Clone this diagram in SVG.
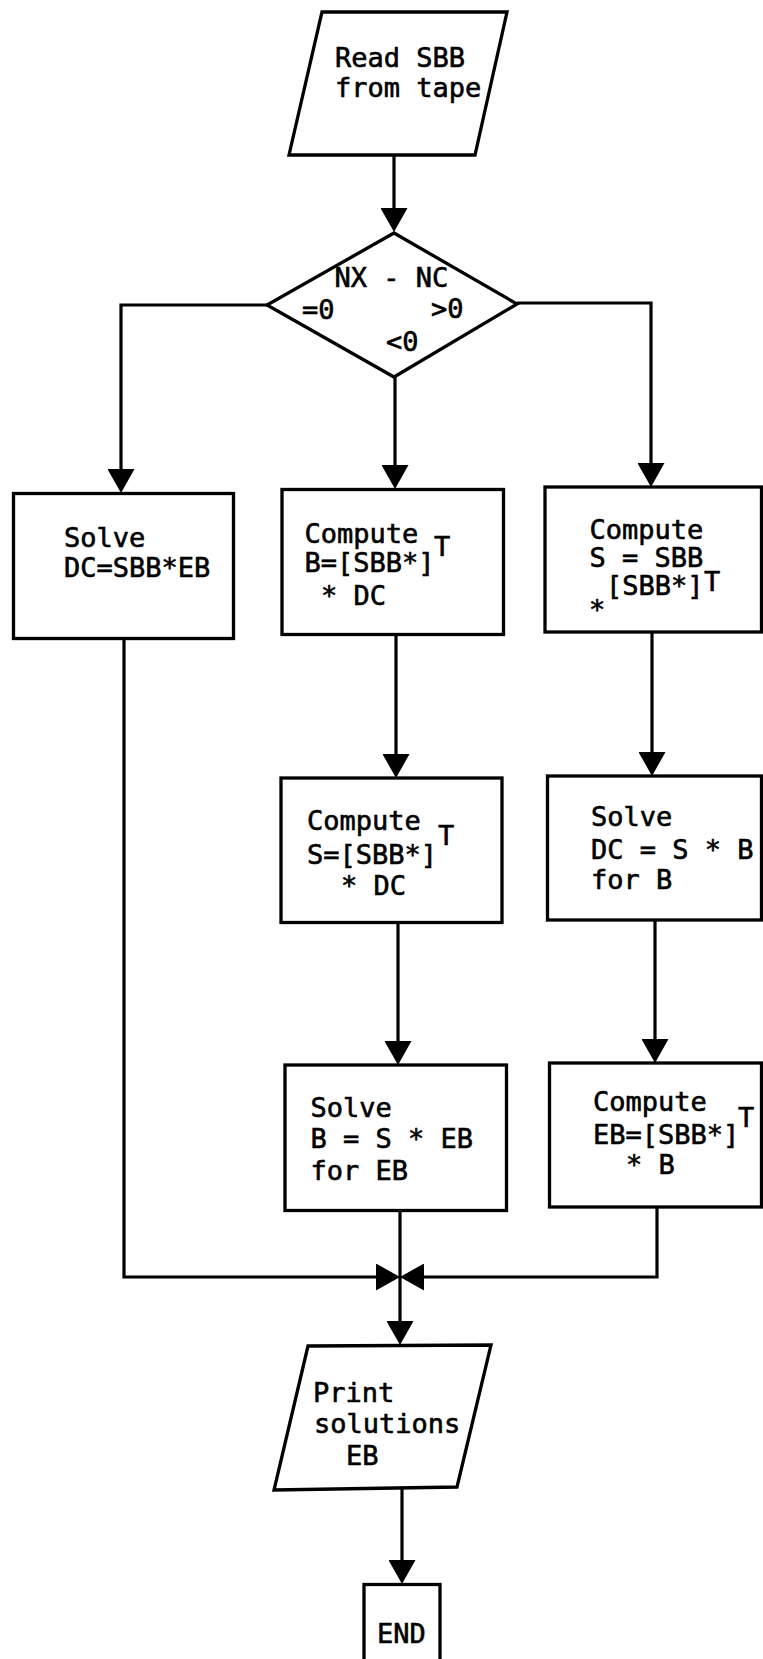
<svg xmlns="http://www.w3.org/2000/svg" width="763" height="1659" viewBox="0 0 763 1659">
  <style>
    .shape { fill: #fff; stroke: #000; stroke-width: 3.3; stroke-linejoin: miter; }
    .wire { fill: none; stroke: #000; stroke-width: 3.2; }
    text { font-family: "DejaVu Sans Mono", "Liberation Mono", monospace; font-size: 27px; fill: #000; stroke: #000; stroke-width: 0.6; }
  </style>
  <defs>
    <marker id="ah" markerUnits="userSpaceOnUse" viewBox="0 0 24 27" markerWidth="24" markerHeight="27" refX="14" refY="13.5" orient="auto">
      <path d="M0,0 L24,13.5 L0,27 Z" fill="#000"/>
    </marker>
  </defs>
  <rect width="763" height="1659" fill="#fff"/>

  <!-- flow lines -->
  <g id="connectors">
    <path class="wire" d="M394,155 V222" marker-end="url(#ah)"/>
    <path class="wire" d="M267,305 H121 V483" marker-end="url(#ah)"/>
    <path class="wire" d="M395,377 V479" marker-end="url(#ah)"/>
    <path class="wire" d="M517,303 H651 V477" marker-end="url(#ah)"/>
    <path class="wire" d="M396,634 V768" marker-end="url(#ah)"/>
    <path class="wire" d="M398,922 V1055" marker-end="url(#ah)"/>
    <path class="wire" d="M652,632 V766" marker-end="url(#ah)"/>
    <path class="wire" d="M655,920 V1053" marker-end="url(#ah)"/>
    <path class="wire" d="M124,638 V1277 H390" marker-end="url(#ah)"/>
    <path class="wire" d="M657,1207 V1277 H410" marker-end="url(#ah)"/>
    <path class="wire" d="M400,1210 V1335" marker-end="url(#ah)"/>
    <path class="wire" d="M402,1488 V1574" marker-end="url(#ah)"/>
  </g>

  <g id="read-sbb">
    <polygon class="shape" points="322,12 507,12 475,155 289,155"/>
    <text x="335" y="67">Read SBB</text>
    <text x="335" y="97">from tape</text>
  </g>

  <g id="test-nx-nc">
    <polygon class="shape" points="394,233 517,304 394,377 267,305"/>
    <text x="334.5" y="287">NX - NC</text>
    <text x="302" y="319">=0</text>
    <text x="431" y="318">&gt;0</text>
    <text x="386" y="351">&lt;0</text>
  </g>

  <g id="solve-dc">
    <rect class="shape" x="13.5" y="493.5" width="220" height="145"/>
    <text x="64" y="547">Solve</text>
    <text x="64" y="577">DC=SBB*EB</text>
  </g>

  <g id="compute-b">
    <rect class="shape" x="282" y="489.5" width="221.5" height="145"/>
    <text x="304.5" y="543">Compute</text>
    <text x="304.5" y="572">B=[SBB*]</text>
    <text x="434" y="556">T</text>
    <text x="321" y="605">* DC</text>
  </g>

  <g id="compute-s-sbb">
    <rect class="shape" x="545" y="487" width="216.5" height="145"/>
    <text x="589.5" y="538.5">Compute</text>
    <text x="589.5" y="567">S = SBB</text>
    <text x="589" y="619">*</text>
    <text x="606" y="595">[SBB*]</text>
    <text x="704" y="591">T</text>
  </g>

  <g id="compute-s-dc">
    <rect class="shape" x="281" y="778" width="221" height="144.5"/>
    <text x="307" y="830">Compute</text>
    <text x="307" y="864">S=[SBB*]</text>
    <text x="438" y="845">T</text>
    <text x="341" y="895">* DC</text>
  </g>

  <g id="solve-b">
    <rect class="shape" x="547.5" y="776" width="214" height="144"/>
    <text x="591" y="826">Solve</text>
    <text x="591" y="858.5">DC = S * B</text>
    <text x="591" y="889">for B</text>
  </g>

  <g id="solve-eb">
    <rect class="shape" x="285" y="1065" width="221.5" height="145.5"/>
    <text x="310.5" y="1117">Solve</text>
    <text x="310.5" y="1147.5">B = S * EB</text>
    <text x="310.5" y="1180">for EB</text>
  </g>

  <g id="compute-eb">
    <rect class="shape" x="549.5" y="1063" width="212" height="144"/>
    <text x="593" y="1111">Compute</text>
    <text x="593" y="1143.5">EB=[SBB*]</text>
    <text x="738" y="1127">T</text>
    <text x="626" y="1174">* B</text>
  </g>

  <g id="print-eb">
    <polygon class="shape" points="308,1346 491,1345 457,1487 274,1490"/>
    <text x="313" y="1402">Print</text>
    <text x="314" y="1433">solutions</text>
    <text x="346" y="1465">EB</text>
  </g>

  <g id="end">
    <rect class="shape" x="364" y="1584.5" width="76" height="100"/>
    <text x="377" y="1643">END</text>
  </g>
</svg>
